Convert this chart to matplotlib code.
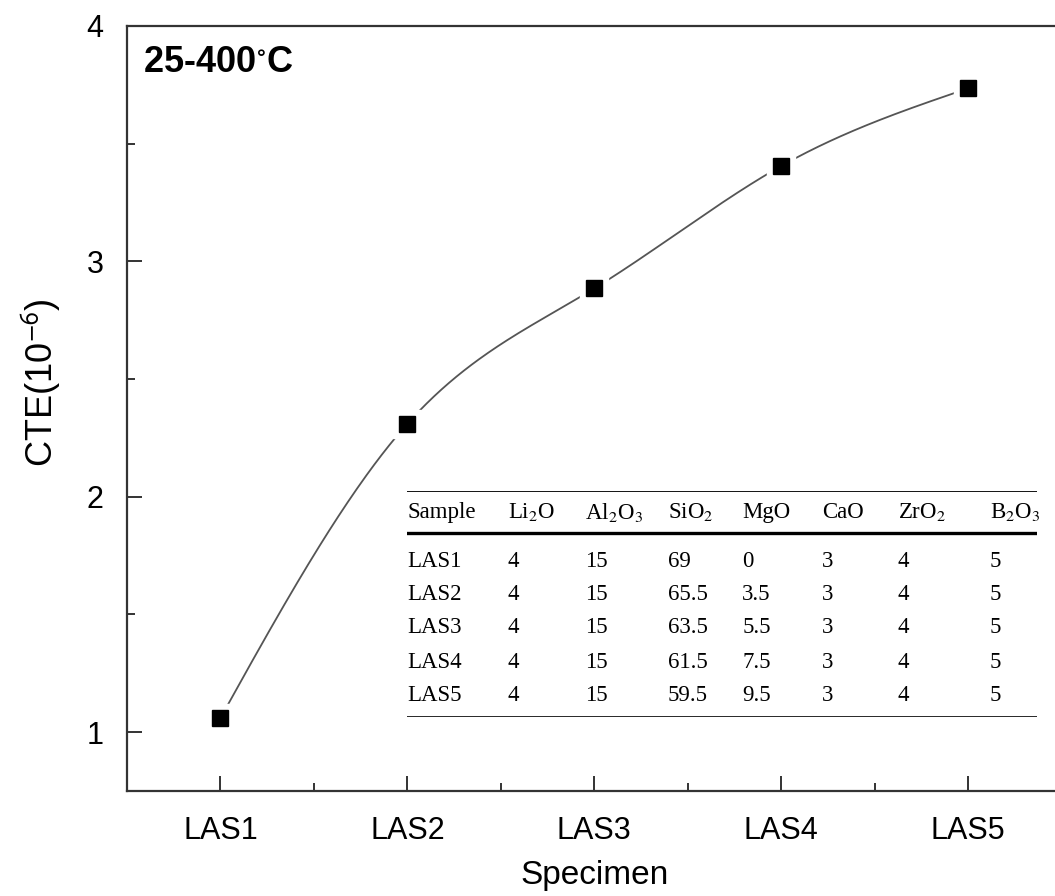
import numpy as np
import matplotlib
matplotlib.use("Agg")
import matplotlib.pyplot as plt
from matplotlib.ticker import MultipleLocator, FixedLocator

# ---------------- data ----------------
specimens = ["LAS1", "LAS2", "LAS3", "LAS4", "LAS5"]
cte = [1.06, 2.31, 2.885, 3.405, 3.735]

table_header = ["Sample", "Li$_2$O", "Al$_2$O$_3$", "SiO$_2$", "MgO", "CaO", "ZrO$_2$", "B$_2$O$_3$"]
table_samples = ["LAS1", "LAS2", "LAS3", "LAS4", "LAS5"]
li2o = ["4", "4", "4", "4", "4"]
al2o3 = ["15", "15", "15", "15", "15"]
sio2 = ["69", "65.5", "63.5", "61.5", "59.5"]
mgo = ["0", "3.5", "5.5", "7.5", "9.5"]
cao = ["3", "3", "3", "3", "3"]
zro2 = ["4", "4", "4", "4", "4"]
b2o3 = ["5", "5", "5", "5", "5"]

plt.rcParams['font.family'] = ['Liberation Sans', 'DejaVu Sans']
plt.rcParams['mathtext.fontset'] = 'stix'

fig = plt.figure(figsize=(10.55, 8.96), dpi=100)
ax = fig.add_axes([0.1204, 0.1172, 0.8858, 0.8538])

x = np.arange(1, len(specimens) + 1)
y = np.array(cte)

# natural cubic spline through the measured points (rendering of the smooth curve)
def natural_spline(xk, yk, xs):
    n = len(xk)
    h = np.diff(xk)
    A = np.zeros((n, n)); r = np.zeros(n)
    A[0, 0] = 1; A[-1, -1] = 1
    for i in range(1, n - 1):
        A[i, i - 1] = h[i - 1]; A[i, i] = 2 * (h[i - 1] + h[i]); A[i, i + 1] = h[i]
        r[i] = 3 * ((yk[i + 1] - yk[i]) / h[i] - (yk[i] - yk[i - 1]) / h[i - 1])
    c = np.linalg.solve(A, r)
    out = np.empty_like(xs)
    for j, xv in enumerate(xs):
        i = min(max(np.searchsorted(xk, xv) - 1, 0), n - 2)
        dx = xv - xk[i]
        b = (yk[i + 1] - yk[i]) / h[i] - h[i] * (2 * c[i] + c[i + 1]) / 3
        d = (c[i + 1] - c[i]) / (3 * h[i])
        out[j] = yk[i] + b * dx + c[i] * dx ** 2 + d * dx ** 3
    return out

xs = np.linspace(x[0], x[-1], 400)
ax.plot(xs, natural_spline(x.astype(float), y, xs), color='#555555', lw=1.3, zorder=2)
ax.plot(x, y, ls='none', marker='s', ms=20, mfc='white', mec='white', zorder=3)
ax.plot(x, y, ls='none', marker='s', ms=11, mfc='black', mec='black', zorder=4)

ax.set_xlim(0.5, 5.5)
ax.set_ylim(0.75, 4.0)
ax.xaxis.set_major_locator(FixedLocator(x))
ax.set_xticklabels(specimens)
ax.xaxis.set_minor_locator(FixedLocator(x[:-1] + 0.5))
ax.yaxis.set_major_locator(MultipleLocator(1))
ax.yaxis.set_minor_locator(MultipleLocator(0.5))
ax.tick_params(which='major', direction='in', length=11, width=1.4, labelsize=22, color='#333333')
ax.tick_params(which='minor', direction='in', length=5.5, width=1.4, color='#333333')
ax.tick_params(axis='x', which='major', pad=18)
ax.tick_params(axis='y', which='major', pad=17)
for s in ax.spines.values():
    s.set_linewidth(1.6)
    s.set_color('#333333')

ax.set_xlabel("Specimen", fontsize=24, labelpad=10)
ax.set_ylabel("CTE(10$^{\\mathsf{-6}}$)", fontsize=26)
ax.yaxis.set_label_coords(-0.068, 0.533)
ax.text(0.017, 0.975, "25-400$^{\\circ}$C", transform=ax.transAxes, fontsize=26,
        fontweight='bold', ha='left', va='top')

# ------------- inset composition table -------------
tax = ax.inset_axes([0.2996, 0.0967, 0.6742, 0.2954])
tax.set_xlim(0, 1); tax.set_ylim(0, 1); tax.axis('off')
col_x = [0.0, 0.160, 0.283, 0.414, 0.532, 0.659, 0.779, 0.925]
row_y = [0.690, 0.544, 0.398, 0.243, 0.097]
tfont = dict(family=['Liberation Serif', 'DejaVu Serif'], fontsize=16.5, va='center', ha='left')
for cx, h in zip(col_x, table_header):
    tax.text(cx, 0.907, h, **tfont)
columns = [table_samples, li2o, al2o3, sio2, mgo, cao, zro2, b2o3]
for cx, col in zip(col_x, columns):
    for ry, v in zip(row_y, col):
        tax.text(cx, ry, v, **tfont)
tax.plot([0, 1], [1.0, 1.0], color='black', lw=1.3)
tax.plot([0, 1], [0.814, 0.814], color='black', lw=2.4)
tax.plot([0, 1], [0.0, 0.0], color='black', lw=1.9)

fig.savefig("out.png", dpi=100)
